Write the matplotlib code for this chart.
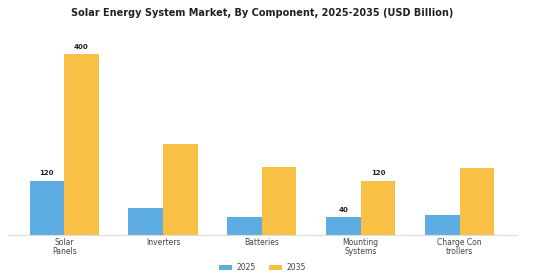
import numpy as np
import matplotlib.pyplot as plt

categories = ["Solar\nPanels", "Inverters", "Batteries", "Mounting\nSystems", "Charge Con\ntrollers"]
values_2025 = [120, 60, 40, 40, 45]
values_2035 = [400, 200, 150, 120, 148]
labeled = [0, 3]  # groups with value labels

blue = "#5DADE2"
yellow = "#F8C146"

fig = plt.figure(figsize=(5.6, 2.8), dpi=100)
ax = fig.add_axes([0.014, 0.161, 0.909, 0.696])

x = np.arange(len(categories))
w = 0.35
b1 = ax.bar(x - w / 2, values_2025, w, color=blue, label="2025")
b2 = ax.bar(x + w / 2, values_2035, w, color=yellow, label="2035")

for i in labeled:
    for bars, vals in ((b1, values_2025), (b2, values_2035)):
        r = bars[i]
        ax.annotate(str(vals[i]), (r.get_x() + r.get_width() / 2, r.get_height()),
                    xytext=(0, 3), textcoords="offset points",
                    ha="center", va="bottom", fontsize=5, fontweight="bold", color="#222222")

ax.set_xlim(-0.57, 4.58)
ax.set_ylim(0, 431)
ax.set_xticks(x)
ax.set_xticklabels(categories, fontsize=5.5, color="#444444", linespacing=1.0)
ax.tick_params(axis="x", length=0, pad=2)
ax.set_yticks([])
for s in ["top", "right", "left"]:
    ax.spines[s].set_visible(False)
ax.spines["bottom"].set_color("#dddddd")
ax.spines["bottom"].set_linewidth(0.8)

ax.set_title("Solar Energy System Market, By Component, 2025-2035 (USD Billion)",
             fontsize=7, fontweight="bold", color="#222222", pad=17.5)

ax.legend(loc="upper center", bbox_to_anchor=(0.5, -0.11), ncol=2, frameon=False,
          fontsize=5.5, handlelength=1.7, handleheight=0.6, columnspacing=1.7,
          handletextpad=0.6, labelcolor="#444444")

fig.savefig("out.png", dpi=100)
